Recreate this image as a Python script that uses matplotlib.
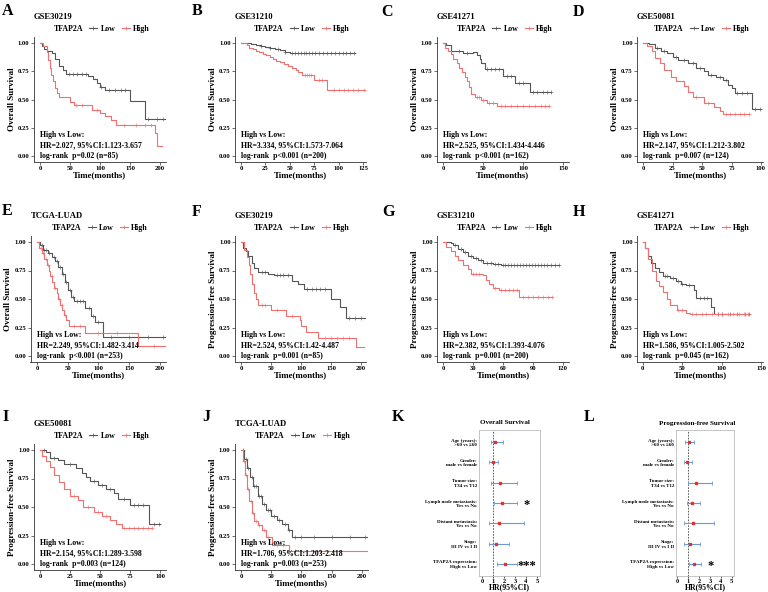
import numpy as np
import matplotlib
matplotlib.use('Agg')
import matplotlib.pyplot as plt
from matplotlib.lines import Line2D

plt.rcParams['font.family'] = ['Liberation Serif', 'DejaVu Serif']
plt.rcParams['font.weight'] = 'bold'
plt.rcParams['axes.labelweight'] = 'bold'

LOW_COL = '#555555'
HIGH_COL = '#F07070'

# ---- Kaplan-Meier step data (time, survival) and censor times ----
# A: GSE30219 OS
a_low_t = [0, 3, 6, 12, 20, 25, 32, 38, 44, 80, 88, 95, 100, 108, 150, 175, 209]
a_low_s = [1, .97, .95, .93, .91, .86, .80, .76, .73, .71, .68, .65, .61, .58, .49, .33, .33]
a_low_c = [48, 55, 62, 70, 76, 102, 115, 125, 135, 142, 180, 195, 205]
a_high_t = [0, 5, 11, 14, 17, 19, 22, 25, 28, 31, 50, 56, 86, 100, 108, 118, 126, 192, 195, 203]
a_high_s = [1, .97, .92, .85, .78, .72, .66, .60, .56, .52, .48, .45, .41, .38, .35, .32, .27, .20, .09, .09]
a_high_c = [60, 70, 95, 140, 160, 175, 185]
# B: GSE31210 OS
b_low_t = [0, 10, 15, 20, 25, 30, 35, 40, 45, 50, 117]
b_low_s = [1, .99, .985, .975, .965, .955, .945, .935, .925, .91, .91]
b_low_c = [20, 30, 38, 45, 52, 55, 58, 61, 64, 67, 70, 73, 76, 80, 84, 88, 92, 96, 100, 104, 108, 112, 116]
b_high_t = [0, 6, 8, 12, 15, 18, 22, 26, 30, 33, 36, 40, 44, 48, 52, 56, 58, 62, 75, 88, 128]
b_high_s = [1, .98, .96, .945, .93, .92, .905, .89, .875, .86, .845, .83, .815, .80, .78, .76, .745, .72, .67, .58, .58]
b_high_c = [65, 68, 70, 72, 80, 83, 95, 100, 105, 110, 115, 120, 126]
# C: GSE41271 OS
c_low_t = [0, 4, 10, 25, 38, 42, 46, 48, 52, 75, 90, 109, 135]
c_low_s = [1, .98, .93, .915, .92, .89, .86, .82, .77, .71, .65, .57, .57]
c_low_c = [20, 30, 55, 60, 65, 70, 80, 85, 95, 100, 112, 118, 125, 130, 135]
c_high_t = [0, 3, 6, 10, 13, 17, 20, 24, 27, 30, 32, 35, 40, 48, 55, 68, 133]
c_high_s = [1, .96, .93, .90, .86, .82, .78, .74, .70, .66, .61, .55, .52, .50, .47, .44, .44]
c_high_c = [42, 45, 50, 58, 62, 72, 78, 85, 92, 100, 108, 115, 122, 128, 133]
# D: GSE50081 OS
d_low_t = [0, 5, 10, 15, 20, 25, 30, 38, 45, 52, 55, 62, 68, 72, 75, 78, 92, 100]
d_low_s = [1, .99, .96, .93, .91, .88, .85, .82, .78, .75, .72, .70, .67, .63, .60, .56, .42, .42]
d_low_c = [12, 18, 28, 35, 42, 48, 58, 65, 70, 80, 84, 88, 95, 99]
d_high_t = [0, 3, 8, 10, 14, 18, 24, 28, 35, 38, 42, 52, 60, 65, 68, 90]
d_high_s = [1, .97, .93, .87, .82, .76, .70, .66, .62, .57, .52, .47, .43, .40, .37, .37]
d_high_c = [45, 55, 70, 74, 78, 82, 86, 90]
# E: TCGA-LUAD OS
e_low_t = [0, 5, 10, 18, 25, 30, 35, 40, 45, 50, 55, 60, 78, 88, 95, 107, 210]
e_low_s = [1, .97, .93, .90, .87, .83, .78, .72, .65, .58, .52, .48, .42, .35, .30, .17, .17]
e_low_c = [8, 12, 15, 20, 28, 33, 38, 42, 48, 53, 58, 65, 70, 75, 85, 92, 100, 120, 150, 180, 205]
e_high_t = [0, 4, 8, 12, 16, 19, 22, 25, 28, 32, 35, 38, 41, 44, 47, 52, 78, 165, 210]
e_high_s = [1, .95, .90, .85, .80, .75, .70, .65, .60, .55, .50, .45, .40, .36, .32, .26, .20, .09, .09]
e_high_c = [6, 10, 14, 18, 24, 30, 36, 40, 45, 60, 70, 100, 130, 190]
# F: GSE30219 PFS
f_low_t = [0, 3, 8, 12, 18, 22, 28, 45, 55, 85, 95, 105, 150, 165, 175, 208]
f_low_s = [1, .95, .92, .88, .82, .77, .74, .72, .71, .66, .63, .59, .50, .43, .33, .33]
f_low_c = [35, 40, 60, 65, 70, 78, 110, 118, 125, 132, 140, 180, 190, 200]
f_high_t = [0, 5, 10, 13, 15, 18, 22, 25, 28, 50, 75, 98, 100, 108, 128, 192, 205]
f_high_s = [1, .93, .87, .80, .72, .63, .55, .50, .45, .40, .35, .32, .26, .21, .16, .08, .08]
f_high_c = [35, 40, 60, 85, 140, 150, 160, 170, 180]
# G: GSE31210 PFS
g_low_t = [0, 8, 10, 15, 20, 25, 30, 35, 40, 50, 58, 116]
g_low_s = [1, .99, .97, .94, .91, .88, .86, .84, .82, .81, .80, .80]
g_low_c = [12, 18, 22, 28, 33, 38, 44, 48, 52, 55, 60, 62, 65, 68, 71, 74, 77, 80, 83, 86, 89, 92,
           95, 98, 101, 104, 108, 112, 116]
g_high_t = [0, 3, 8, 12, 15, 20, 25, 28, 40, 43, 46, 50, 56, 76, 109]
g_high_s = [1, .96, .92, .88, .84, .80, .76, .72, .71, .67, .63, .60, .58, .52, .52]
g_high_c = [30, 33, 36, 52, 58, 62, 66, 70, 74, 80, 85, 90, 95, 100, 105, 109]
# H: GSE41271 PFS
h_low_t = [0, 3, 6, 10, 15, 20, 25, 35, 42, 48, 55, 65, 68, 87, 90, 135]
h_low_s = [1, .95, .88, .82, .77, .74, .70, .68, .66, .63, .62, .58, .51, .43, .37, .37]
h_low_c = [28, 30, 38, 45, 50, 58, 72, 78, 82, 95, 100, 110, 120, 130, 135]
h_high_t = [0, 3, 7, 12, 17, 20, 25, 30, 35, 43, 55, 60, 133]
h_high_s = [1, .95, .85, .75, .66, .61, .56, .50, .45, .40, .38, .37, .37]
h_high_c = [45, 50, 62, 68, 75, 80, 88, 95, 100, 108, 115, 122, 128, 133]
# I: GSE50081 PFS
i_low_t = [0, 5, 8, 15, 20, 30, 35, 38, 42, 48, 55, 62, 65, 75, 91, 100]
i_low_s = [1, .98, .93, .91, .88, .84, .80, .76, .73, .69, .66, .62, .57, .52, .35, .35]
i_low_c = [3, 12, 25, 45, 52, 58, 70, 78, 82, 86, 95, 99]
i_high_t = [0, 2, 5, 8, 12, 16, 20, 25, 32, 36, 45, 52, 58, 63, 68, 93]
i_high_s = [1, .95, .90, .85, .78, .72, .66, .60, .56, .50, .46, .42, .39, .35, .32, .32]
i_high_c = [28, 40, 48, 55, 70, 74, 78, 82, 86, 90, 93]
# J: TCGA-LUAD PFS
j_low_t = [0, 5, 10, 15, 20, 28, 35, 42, 50, 60, 68, 78, 85, 210]
j_low_s = [1, .92, .84, .76, .68, .60, .53, .47, .42, .39, .35, .30, .24, .24]
j_low_c = [3, 8, 12, 18, 22, 25, 30, 33, 38, 45, 48, 55, 63, 72, 80, 90, 100, 120, 150, 180, 205]
j_high_t = [0, 3, 7, 10, 14, 18, 22, 28, 35, 42, 52, 80, 210]
j_high_s = [1, .90, .78, .66, .55, .45, .38, .34, .30, .24, .17, .11, .11]
j_high_c = [5, 9, 12, 16, 20, 25, 30, 38, 45, 60, 70, 90, 130]

km_titles = ['GSE30219', 'GSE31210', 'GSE41271', 'GSE50081', 'TCGA-LUAD',
             'GSE30219', 'GSE31210', 'GSE41271', 'GSE50081', 'TCGA-LUAD']
km_hr = ['HR=2.027, 95%CI:1.123-3.657', 'HR=3.334, 95%CI:1.573-7.064', 'HR=2.525, 95%CI:1.434-4.446',
         'HR=2.147, 95%CI:1.212-3.802', 'HR=2.249, 95%CI:1.482-3.414', 'HR=2.524, 95%CI:1.42-4.487',
         'HR=2.382, 95%CI:1.393-4.076', 'HR=1.586, 95%CI:1.005-2.502', 'HR=2.154, 95%CI:1.289-3.598',
         'HR=1.706, 95%CI:1.203-2.418']
km_p = ['p=0.02 (n=85)', 'p<0.001 (n=200)', 'p<0.001 (n=162)', 'p=0.007 (n=124)', 'p<0.001 (n=253)',
        'p=0.001 (n=85)', 'p=0.001 (n=200)', 'p=0.045 (n=162)', 'p=0.003 (n=124)', 'p=0.003 (n=253)']

# ---- forest plot data ----
forest_labels = ['Age (years):\n>60 vs \u226460', 'Gender:\nmale vs female', 'Tumor size:\nT34 vs T12',
                 'Lymph node metastasis:\nYes vs No', 'Distant metastasis:\nYes vs No',
                 'Stage:\nIII IV vs I II', 'TFAP2A expression:\nHigh vs Low']
os_hr = [1.22, 0.97, 1.62, 1.86, 1.53, 1.26, 2.09]
os_lo = [0.78, 0.64, 0.86, 1.07, 0.64, 0.67, 1.40]
os_hi = [1.90, 1.47, 3.15, 3.15, 3.80, 2.48, 3.15]
os_sig = ['', '', '', '*', '', '', '***']
pfs_hr = [1.09, 0.94, 1.76, 1.33, 1.45, 1.18, 1.55]
pfs_lo = [0.73, 0.64, 1.00, 0.88, 0.64, 0.67, 1.06]
pfs_hi = [1.58, 1.36, 3.18, 2.06, 3.36, 2.06, 2.15]
pfs_sig = ['', '', '', '', '', '', '*']

W, H = 768, 592


def px_axes(fig, l, t, r, b):
    return fig.add_axes([l / W, 1 - b / H, (r - l) / W, (b - t) / H])


def km_panel(fig, box, xlim, xticks, title, ylabel, low, high, hr, p):
    ax = px_axes(fig, *box)
    hpx = box[3] - box[1]
    for (t, s, c), col in zip([low, high], [LOW_COL, HIGH_COL]):
        t = np.asarray(t, float)
        s = np.asarray(s, float)
        c = np.asarray(c, float)
        ax.step(t, s, where='post', color=col, lw=0.8)
        idx = np.searchsorted(t, c, side='right') - 1
        ax.plot(c, s[idx], ls='none', marker='+', ms=2.2, mew=0.4, color=col)
    ax.set_xlim(xlim)
    ax.set_ylim(-0.05, 1.05)
    ax.set_xticks(xticks)
    ax.set_yticks([0, .25, .5, .75, 1])
    ax.set_yticklabels(['0.00', '0.25', '0.50', '0.75', '1.00'])
    ax.tick_params(labelsize=4.8, length=2, width=0.5, pad=1, colors='#333333', labelcolor='black')
    for side in ['top', 'right']:
        ax.spines[side].set_visible(False)
    for side in ['left', 'bottom']:
        ax.spines[side].set_linewidth(0.6)
        ax.spines[side].set_color('#333333')
    ax.set_xlabel('Time(months)', fontsize=6.4, labelpad=0.3)
    ax.set_ylabel(ylabel, fontsize=6.5, labelpad=1.5)
    ax.text(0, -0.035, 'High vs Low:\n' + hr + '\nlog-rank  ' + p, fontsize=5.6,
            ha='left', va='bottom', linespacing=1.45)
    ax.text(0, 1 + 20.5 / hpx, title, transform=ax.transAxes, fontsize=6.2,
            ha='left', va='center')
    handles = [Line2D([], [], color='none'),
               Line2D([], [], color=LOW_COL, lw=0.8, marker='+', ms=2.8, mew=0.5),
               Line2D([], [], color=HIGH_COL, lw=0.8, marker='+', ms=2.8, mew=0.5)]
    ax.legend(handles, ['TFAP2A', 'Low', 'High'], ncol=3, loc='center',
              bbox_to_anchor=(0.47, 1 + 8.5 / hpx), frameon=False, fontsize=5.7,
              handlelength=1.0, handletextpad=0.4, columnspacing=0.8,
              borderpad=0, borderaxespad=0)
    return ax


def forest_panel(fig, box, xlim, hr, lo, hi, sig, xlabel_text):
    ax = px_axes(fig, *box)
    hr = np.asarray(hr)
    lo = np.asarray(lo)
    hi = np.asarray(hi)
    rows = np.arange(1, len(hr) + 1)
    ax.axvline(1, color='#444444', ls=(0, (2, 1.5)), lw=0.6)
    ax.errorbar(hr, rows, xerr=[hr - lo, hi - hr], fmt='none', ecolor='#6C9BD2',
                elinewidth=0.8, capsize=1.4, capthick=0.6)
    ax.plot(hr, rows, 's', color='#E0302F', ms=1.6)
    for r, h, sg in zip(rows, hi, sig):
        if sg:
            ax.text(h + 0.9, r + 0.1, sg, ha='center', va='center', fontsize=9)
    ax.set_xlim(xlim)
    ax.set_ylim(7.6, 0.4)
    ax.set_yticks(rows)
    ax.set_yticklabels(forest_labels, fontsize=3.6, linespacing=1.15)
    ax.set_xticks([0, 1, 2, 3, 4, 5])
    ax.tick_params(axis='x', labelsize=4.6, length=1.5, width=0.5, pad=0.5)
    ax.tick_params(axis='y', length=0, pad=1.5)
    for sp in ax.spines.values():
        sp.set_color('#BBBBBB')
        sp.set_linewidth(0.6)
    ax.set_xlabel(xlabel_text, fontsize=5.6, labelpad=-0.5)
    return ax


fig = plt.figure(figsize=(7.68, 5.92), dpi=100)

r1 = (37.4, 161.6)
r2 = (236.3, 361.7)
r3 = (444.3, 569.7)
t50 = [0, 50, 100, 150, 200]
km_specs = [
    ((33.7, r1[0], 166, r1[1]), (-10.5, 210), t50, 'Overall Survival',
     (a_low_t, a_low_s, a_low_c), (a_high_t, a_high_s, a_high_c)),
    ((235, r1[0], 366, r1[1]), (-6.2, 128), [0, 25, 50, 75, 100, 125], 'Overall Survival',
     (b_low_t, b_low_s, b_low_c), (b_high_t, b_high_s, b_high_c)),
    ((436.7, r1[0], 569, r1[1]), (-7.9, 157.5), [0, 50, 100, 150], 'Overall Survival',
     (c_low_t, c_low_s, c_low_c), (c_high_t, c_high_s, c_high_c)),
    ((637, r1[0], 763, r1[1]), (-5.1, 101.7), [0, 25, 50, 75, 100], 'Overall Survival',
     (d_low_t, d_low_s, d_low_c), (d_high_t, d_high_s, d_high_c)),
    ((30.5, r2[0], 166, r2[1]), (-10.5, 210), t50, 'Overall Survival',
     (e_low_t, e_low_s, e_low_c), (e_high_t, e_high_s, e_high_c)),
    ((234.8, r2[0], 366, r2[1]), (-10.4, 208), t50, 'Progression-free Survival',
     (f_low_t, f_low_s, f_low_c), (f_high_t, f_high_s, f_high_c)),
    ((437, r2[0], 569, r2[1]), (-6, 126), [0, 30, 60, 90, 120], 'Progression-free Survival',
     (g_low_t, g_low_s, g_low_c), (g_high_t, g_high_s, g_high_c)),
    ((637, r2[0], 763, r2[1]), (-7.5, 152.5), [0, 50, 100, 150], 'Progression-free Survival',
     (h_low_t, h_low_s, h_low_c), (h_high_t, h_high_s, h_high_c)),
    ((34, r3[0], 166, r3[1]), (-5, 105), [0, 25, 50, 75, 100], 'Progression-free Survival',
     (i_low_t, i_low_s, i_low_c), (i_high_t, i_high_s, i_high_c)),
    ((234.6, r3[0], 368, r3[1]), (-10.5, 210), t50, 'Progression-free Survival',
     (j_low_t, j_low_s, j_low_c), (j_high_t, j_high_s, j_high_c)),
]
for k, (box, xlim, xt, ylab, low, high) in enumerate(km_specs):
    km_panel(fig, box, xlim, xt, km_titles[k], ylab, low, high, km_hr[k], km_p[k])

forest_panel(fig, (479, 430, 540, 576), (-0.27, 5.27), os_hr, os_lo, os_hi, os_sig, 'HR(95%CI)')
forest_panel(fig, (676, 430, 734, 576), (-0.1, 5.2), pfs_hr, pfs_lo, pfs_hi, pfs_sig, 'HR(95%CI)')
fig.text(505 / W, 1 - 423 / H, 'Overall Survival', ha='center', va='center', fontsize=5.0)
fig.text(697 / W, 1 - 423 / H, 'Progression-free Survival', ha='center', va='center', fontsize=5.0)

letters = [('A', 2, 3), ('B', 192, 3), ('C', 381, 4), ('D', 573, 4),
           ('E', 2, 203), ('F', 192, 204), ('G', 382, 204), ('H', 573, 204),
           ('I', 2, 409), ('J', 202, 409), ('K', 392, 409), ('L', 584, 409)]
for lab, x, y in letters:
    fig.text(x / W, 1 - y / H, lab, ha='left', va='top', fontsize=11.5)

fig.savefig('out.png', dpi=100)
